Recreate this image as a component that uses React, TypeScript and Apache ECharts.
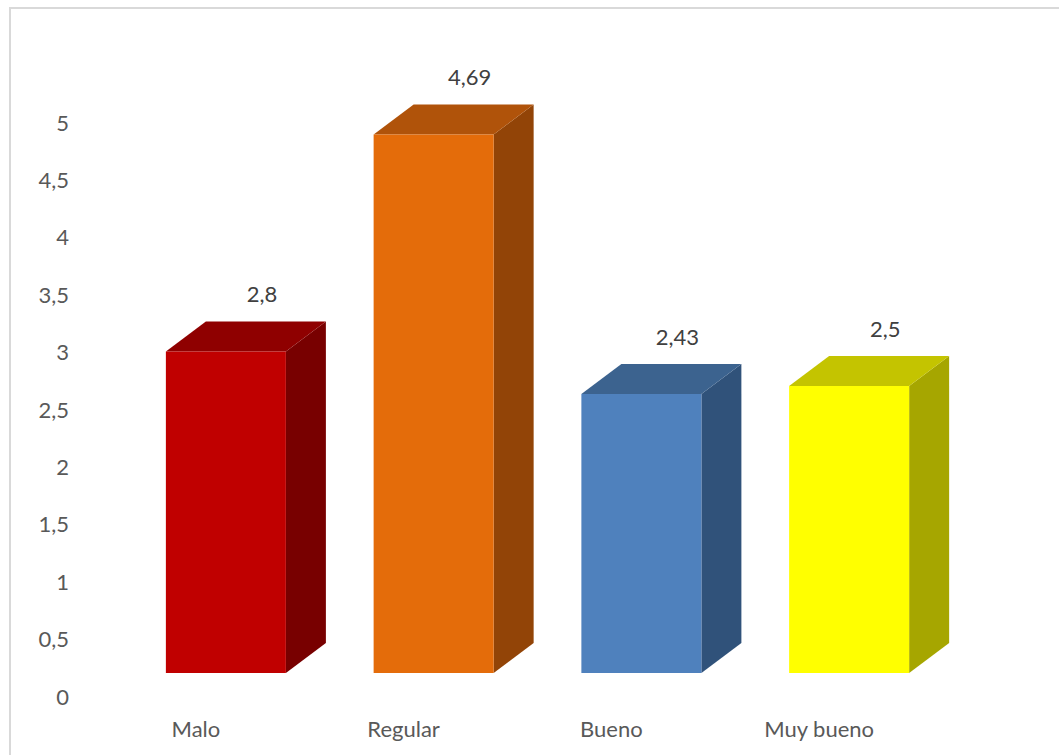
import React, { useEffect, useRef } from "react";
import * as echarts from "echarts";

const categories = ["Malo", "Regular", "Bueno", "Muy bueno"];
const values = [2.8, 4.69, 2.43, 2.5];
const yTicks = [0, 0.5, 1, 1.5, 2, 2.5, 3, 3.5, 4, 4.5, 5];
const frontColors = ["#C00000", "#E46C0A", "#4F81BD", "#FFFF00"];
const topColors = ["#8F0000", "#B0530A", "#3C638F", "#C4C400"];
const sideColors = ["#780000", "#924407", "#30527A", "#A6A600"];

const fmt = (v: number) => String(v).replace(".", ",");

export default function App() {
  const ref = useRef<HTMLDivElement>(null);
  useEffect(() => {
    if (!ref.current) return;
    const chart = echarts.init(ref.current, undefined, { renderer: "svg" });
    const font = "Lato, 'Open Sans', sans-serif";
    chart.setOption({
      animation: false,
      backgroundColor: "#ffffff",
      graphic: [
        {
          type: "rect",
          z: -10,
          shape: { x: 10, y: 8, width: 1200, height: 900 },
          style: { fill: "none", stroke: "#D9D9D9", lineWidth: 2 },
          silent: true,
        },
      ],
      grid: { left: 92, right: 136, top: 122, bottom: 59, containLabel: false },
      xAxis: {
        type: "category",
        data: categories,
        axisLine: { show: false },
        axisTick: { show: false },
        splitLine: { show: false },
        axisLabel: { color: "#595959", fontSize: 22, fontFamily: font, margin: 21 },
      },
      yAxis: {
        type: "value",
        min: 0,
        max: 5,
        interval: 0.5,
        axisLine: { show: false },
        axisTick: { show: false },
        splitLine: { show: false },
        axisLabel: {
          color: "#595959",
          fontSize: 22,
          fontFamily: font,
          margin: 23,
          formatter: (v: number) => (yTicks.includes(v) ? fmt(v) : ""),
        },
      },
      series: [
        {
          type: "custom",
          data: values.map((v, i) => [i, v]),
          encode: { x: 0, y: 1 },
          renderItem: (params: any, api: any) => {
            const idx = api.value(0);
            const v = api.value(1);
            const c = api.coord([idx, v]);
            const c0 = api.coord([idx, 0]);
            const bw = api.size([1, 0])[0];
            const xl = c[0] - bw * 0.1444;
            const xr = c[0] + bw * 0.4333;
            const lift = 23;
            const dx = 40;
            const dy = 30;
            const yb = c0[1] - lift;
            const yt = c[1] - lift;
            return {
              type: "group",
              children: [
                {
                  type: "polygon",
                  shape: { points: [[xr, yb], [xr, yt], [xr + dx, yt - dy], [xr + dx, yb - dy]] },
                  style: { fill: sideColors[idx] },
                },
                {
                  type: "polygon",
                  shape: { points: [[xl, yt], [xl + dx, yt - dy], [xr + dx, yt - dy], [xr, yt]] },
                  style: { fill: topColors[idx] },
                },
                {
                  type: "rect",
                  shape: { x: xl, y: yt, width: xr - xl, height: yb - yt },
                  style: { fill: frontColors[idx] },
                },
                {
                  type: "text",
                  x: c[0] + 66,
                  y: yt - dy - 28,
                  style: {
                    text: fmt(v),
                    fill: "#404040",
                    fontSize: 22,
                    fontFamily: font,
                    align: "center",
                    verticalAlign: "middle",
                  },
                },
              ],
            };
          },
        },
      ],
    });
    return () => chart.dispose();
  }, []);
  return (
    <div
      ref={ref}
      style={{ position: "fixed", left: 0, top: 0, width: 1059, height: 755 }}
    />
  );
}
